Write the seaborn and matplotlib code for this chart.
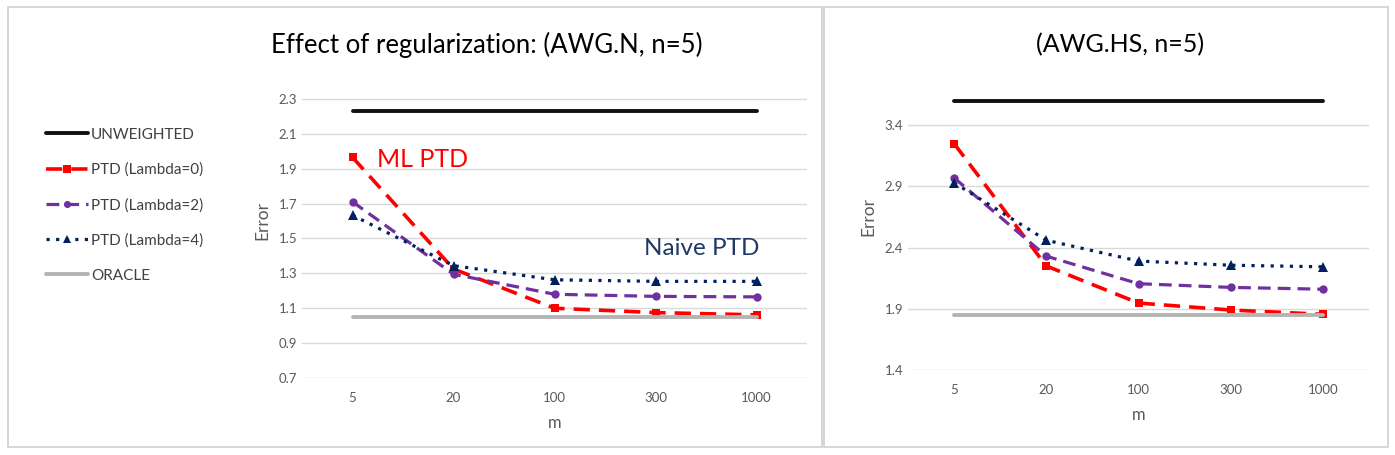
import numpy as np
import pandas as pd
import matplotlib
matplotlib.use("Agg")
import matplotlib.pyplot as plt
from matplotlib.patches import Rectangle
import seaborn as sns

# data
m_labels = ["5", "20", "100", "300", "1000"]

# AWG.N, n=5
n_unweighted = [2.233, 2.233, 2.233, 2.233, 2.233]
n_lam0 = [1.965, 1.325, 1.10, 1.075, 1.062]
n_lam2 = [1.71, 1.295, 1.18, 1.168, 1.165]
n_lam4 = [1.633, 1.344, 1.263, 1.254, 1.254]
n_oracle = [1.05, 1.05, 1.05, 1.05, 1.05]

# AWG.HS, n=5
hs_unweighted = [3.60, 3.60, 3.60, 3.60, 3.60]
hs_lam0 = [3.25, 2.25, 1.947, 1.89, 1.855]
hs_lam2 = [2.97, 2.33, 2.105, 2.075, 2.06]
hs_lam4 = [2.93, 2.46, 2.29, 2.256, 2.243]
hs_oracle = [1.847, 1.847, 1.847, 1.847, 1.847]

names = ["UNWEIGHTED", "PTD (Lambda=0)", "PTD (Lambda=2)", "PTD (Lambda=4)", "ORACLE"]

sns.set_style("white")
plt.rcParams["font.family"] = ["Lato", "DejaVu Sans"]

styles = {
    "UNWEIGHTED": dict(color="#111111", linestyle="-", lw=2.8, marker=None),
    "PTD (Lambda=0)": dict(color="#ff0000", linestyle=(0, (4.5, 2.5)), lw=2.6,
                           marker="s", markersize=6),
    "PTD (Lambda=2)": dict(color="#7030a0", linestyle=(0, (4, 2.2)), lw=2.3,
                           marker="o", markersize=6),
    "PTD (Lambda=4)": dict(color="#002060", linestyle=(0, (1, 2)), lw=2.3,
                           marker="^", markersize=6.5),
    "ORACLE": dict(color="#b4b4b4", linestyle="-", lw=2.8, marker=None),
}

fig = plt.figure(figsize=(13.95, 4.55), dpi=100)

# panel frames
fig.patches.append(Rectangle((8 / 1395, 8 / 455), 814 / 1395, 440 / 455,
                             transform=fig.transFigure, fill=False,
                             edgecolor="#d0d0d0", lw=1.2))
fig.patches.append(Rectangle((824 / 1395, 8 / 455), 564 / 1395, 440 / 455,
                             transform=fig.transFigure, fill=False,
                             edgecolor="#d0d0d0", lw=1.2))

ax1 = fig.add_axes([302 / 1395, 1 - 378 / 455, 505 / 1395, 314 / 455])
ax2 = fig.add_axes([908 / 1395, 1 - 370 / 455, 461 / 1395, 306 / 455])

panels = [
    (ax1, [n_unweighted, n_lam0, n_lam2, n_lam4, n_oracle],
     (0.7, 2.5), [0.7, 0.9, 1.1, 1.3, 1.5, 1.7, 1.9, 2.1, 2.3]),
    (ax2, [hs_unweighted, hs_lam0, hs_lam2, hs_lam4, hs_oracle],
     (1.4, 3.9), [1.4, 1.9, 2.4, 2.9, 3.4]),
]

for ax, series, ylim, yticks in panels:
    for name, vals in zip(names, series):
        df = pd.DataFrame({"m": m_labels, "err": vals})
        sns.lineplot(data=df, x="m", y="err", sort=False, ax=ax, label=name,
                     markeredgewidth=0, **styles[name])
    ax.set_ylim(*ylim)
    ax.set_xlim(-0.5, 4.5)
    ax.set_yticks(yticks)
    ax.set_yticklabels([f"{t:.1f}" for t in yticks])
    ax.yaxis.grid(True, color="#d9d9d9", lw=1)
    ax.set_axisbelow(True)
    for s in ax.spines.values():
        s.set_visible(False)
    ax.tick_params(axis="both", length=0, labelsize=9.5, labelcolor="#595959")
    ax.tick_params(axis="x", pad=10)
    ax.set_xlabel("m", fontsize=12, color="#595959", labelpad=8)
    ax.set_ylabel("Error", fontsize=12.5, color="#595959", labelpad=6)
    ax.get_legend().remove()

ax1.text(0.24, 1.955, "ML PTD", color="#ff0000", fontsize=18, va="center", ha="left")
ax1.text(4.03, 1.44, "Naive PTD", color="#1f3864", fontsize=17.5, va="center", ha="right")

fig.text(487 / 1395, 1 - 45 / 455, "Effect of regularization: (AWG.N, n=5)",
         fontsize=18.5, ha="center", va="center", color="#000000")
fig.text(1120 / 1395, 1 - 45 / 455, "(AWG.HS, n=5)",
         fontsize=18, ha="center", va="center", color="#000000")

handles, labels = ax1.get_legend_handles_labels()
fig.legend(handles, labels, loc="upper left",
           bbox_to_anchor=(32 / 1395, 1 - 114 / 455), frameon=False,
           fontsize=11, labelcolor="#404040", handlelength=2.75,
           handletextpad=0.2, labelspacing=1.37, markerscale=0.85)

fig.savefig("out.png", dpi=100)
